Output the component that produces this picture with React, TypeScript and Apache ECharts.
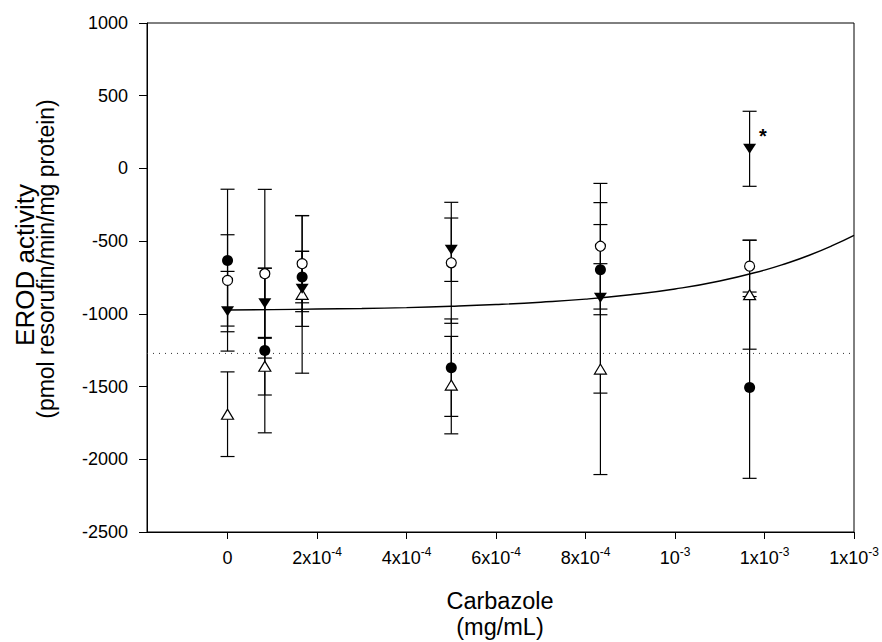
import React, { useEffect, useRef } from 'react';
import * as echarts from 'echarts';

// Doses (mg/mL)
const doses = [0, 0.0833e-3, 0.1667e-3, 0.5e-3, 0.8333e-3, 1.1667e-3];

// Filled circles
const filledCircleMean = [-633, -1252, -747, -1370, -696, -1506];
const filledCircleErr = [490, 566, 177, 335, 310, 625];
// Open circles
const openCircleMean = [-770, -724, -655, -649, -535, -672];
const openCircleErr = [314, 580, 330, 416, 432, 178];
// Filled down triangles
const filledTriMean = [-982, -927, -828, -559, -890, 135];
const filledTriErr = [274, 241, 258, 218, 655, 258];
const filledTriSig = ['', '', '', '', '', '*'];
// Open up triangles
const openTriMean = [-1690, -1360, -866, -1490, -1380, -868];
const openTriErr = [291, 198, 542, 335, 725, 375];

// Fitted curve
const fitX = [0, 1e-4, 2e-4, 3e-4, 4e-4, 5e-4, 6e-4, 7e-4, 8e-4, 9e-4, 1.0e-3, 1.1e-3, 1.2e-3, 1.25e-3, 1.3e-3, 1.35e-3, 1.4e-3];
const fitY = [-973, -971, -967, -963, -957, -948, -936, -920, -899, -869, -829, -774, -699, -652, -597, -533, -460];

// Dotted reference level
const referenceLevel = -1272;

// Axis ticks
const xMin = -1.8e-4;
const xMax = 1.4e-3;
const xTickValues = [0, 2e-4, 4e-4, 6e-4, 8e-4, 1.0e-3, 1.2e-3, 1.4e-3];
const xTickBase = ['0', '2x10', '4x10', '6x10', '8x10', '10', '1x10', '1x10'];
const xTickExp = ['', '-4', '-4', '-4', '-4', '-3', '-3', '-3'];
const yMin = -2500;
const yMax = 1000;
const yInterval = 500;

const FONT = 'Liberation Sans, Arial, Helvetica, sans-serif';

function errorSeries(name: string, means: number[], errs: number[]) {
  return {
    type: 'custom',
    name,
    data: doses.map((d, i) => [d, means[i] - errs[i], means[i] + errs[i]]),
    encode: { x: 0, y: [1, 2] },
    z: 2,
    silent: true,
    renderItem: (params: any, api: any) => {
      const x = api.value(0);
      const lo = api.coord([x, api.value(1)]);
      const hi = api.coord([x, api.value(2)]);
      const hw = 7;
      const style = { stroke: '#000', lineWidth: 1.2, fill: 'none' };
      return {
        type: 'group',
        children: [
          { type: 'line', shape: { x1: lo[0], y1: lo[1], x2: hi[0], y2: hi[1] }, style },
          { type: 'line', shape: { x1: lo[0] - hw, y1: lo[1], x2: lo[0] + hw, y2: lo[1] }, style },
          { type: 'line', shape: { x1: hi[0] - hw, y1: hi[1], x2: hi[0] + hw, y2: hi[1] }, style },
        ],
      };
    },
  };
}

export default function App() {
  const ref = useRef<HTMLDivElement>(null);
  useEffect(() => {
    if (!ref.current) return;
    const chart = echarts.init(ref.current, undefined, { renderer: 'svg' });
    const option: any = {
      animation: false,
      backgroundColor: '#fff',
      grid: {
        left: 147,
        top: 23,
        right: 28,
        bottom: 110,
        show: true,
        borderColor: '#000',
        borderWidth: 1,
        backgroundColor: 'transparent',
      },
      xAxis: {
        type: 'value',
        min: xMin,
        max: xMax,
        axisLine: { show: true, onZero: false, lineStyle: { color: '#000', width: 1 } },
        axisTick: { show: true, customValues: xTickValues, length: 7, lineStyle: { color: '#000' } },
        splitLine: { show: false },
        axisLabel: {
          customValues: xTickValues,
          margin: 14,
          color: '#000',
          formatter: (value: number) => {
            let idx = 0;
            let best = Infinity;
            xTickValues.forEach((t, i) => {
              const d = Math.abs(t - value);
              if (d < best) { best = d; idx = i; }
            });
            const b = xTickBase[idx];
            const e = xTickExp[idx];
            return e ? `{b|${b}}{s|${e}}` : `{b|${b}}`;
          },
          rich: {
            b: { fontFamily: FONT, fontSize: 18, lineHeight: 24, color: '#000' },
            s: { fontFamily: FONT, fontSize: 12, lineHeight: 12, verticalAlign: 'top', color: '#000' },
          },
        },
      },
      yAxis: {
        type: 'value',
        min: yMin,
        max: yMax,
        interval: yInterval,
        axisLine: { show: true, onZero: false, lineStyle: { color: '#000', width: 1 } },
        axisTick: { show: true, length: 8, lineStyle: { color: '#000' } },
        splitLine: { show: false },
        axisLabel: {
          margin: 19,
          color: '#000',
          fontFamily: FONT,
          fontSize: 18,
          formatter: (v: number) => String(v),
        },
      },
      graphic: [
        {
          type: 'text',
          x: 25,
          y: 265,
          rotation: Math.PI / 2,
          style: { text: 'EROD activity', font: `26px ${FONT}`, fill: '#000', textAlign: 'center', textVerticalAlign: 'middle' },
        },
        {
          type: 'text',
          x: 46,
          y: 259,
          rotation: Math.PI / 2,
          style: { text: '(pmol resorufin/min/mg protein)', font: `23px ${FONT}`, fill: '#000', textAlign: 'center', textVerticalAlign: 'middle' },
        },
        {
          type: 'text',
          x: 500,
          y: 601,
          style: { text: 'Carbazole', font: `23.5px ${FONT}`, fill: '#000', textAlign: 'center', textVerticalAlign: 'middle' },
        },
        {
          type: 'text',
          x: 500,
          y: 627,
          style: { text: '(mg/mL)', font: `23.5px ${FONT}`, fill: '#000', textAlign: 'center', textVerticalAlign: 'middle' },
        },
      ],
      series: [
        {
          type: 'line',
          name: 'reference',
          data: [[xMin, referenceLevel], [xMax, referenceLevel]],
          showSymbol: false,
          symbol: 'none',
          silent: true,
          lineStyle: { color: '#333', width: 1, type: [1, 5] },
          z: 1,
        },
        {
          type: 'line',
          name: 'fit',
          data: fitX.map((x, i) => [x, fitY[i]]),
          showSymbol: false,
          symbol: 'none',
          smooth: true,
          silent: true,
          lineStyle: { color: '#000', width: 1.4 },
          z: 1,
        },
        errorSeries('filledCircleErr', filledCircleMean, filledCircleErr),
        errorSeries('openCircleErr', openCircleMean, openCircleErr),
        errorSeries('filledTriErr', filledTriMean, filledTriErr),
        errorSeries('openTriErr', openTriMean, openTriErr),
        {
          type: 'scatter',
          name: 'openTri',
          data: doses.map((d, i) => [d, openTriMean[i]]),
          symbol: 'triangle',
          symbolSize: [12, 10],
          itemStyle: { color: '#fff', borderColor: '#000', borderWidth: 1.2, opacity: 1 },
          z: 3,
        },
        {
          type: 'scatter',
          name: 'openCircle',
          data: doses.map((d, i) => [d, openCircleMean[i]]),
          symbol: 'circle',
          symbolSize: 10,
          itemStyle: { color: '#fff', borderColor: '#000', borderWidth: 1.2, opacity: 1 },
          z: 3,
        },
        {
          type: 'scatter',
          name: 'filledTri',
          data: doses.map((d, i) => {
            const item: any = { value: [d, filledTriMean[i]] };
            if (filledTriSig[i]) {
              item.label = {
                show: true,
                formatter: filledTriSig[i],
                position: 'right',
                distance: 3,
                offset: [0, -13],
                fontFamily: FONT,
                fontSize: 20,
                fontWeight: 'bold',
                color: '#000',
              };
            }
            return item;
          }),
          symbol: 'triangle',
          symbolRotate: 180,
          symbolSize: [13, 10],
          itemStyle: { color: '#000', opacity: 1 },
          z: 4,
        },
        {
          type: 'scatter',
          name: 'filledCircle',
          data: doses.map((d, i) => [d, filledCircleMean[i]]),
          symbol: 'circle',
          symbolSize: 11,
          itemStyle: { color: '#000', opacity: 1 },
          z: 4,
        },
      ],
    };
    chart.setOption(option);
    return () => chart.dispose();
  }, []);
  return (
    <div
      ref={ref}
      style={{ position: 'absolute', left: 0, top: 0, width: 882, height: 642, background: '#fff' }}
    />
  );
}
